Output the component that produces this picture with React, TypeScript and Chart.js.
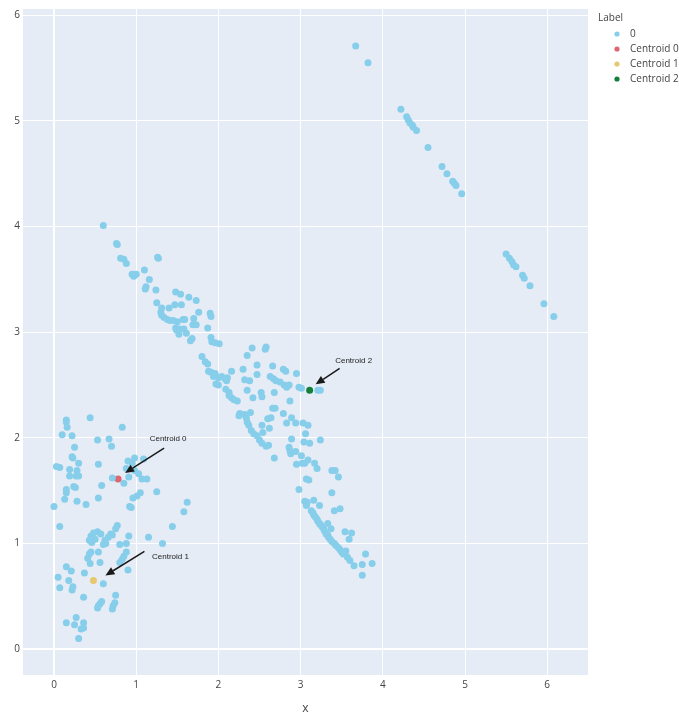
import React, { useEffect, useRef } from "react";
import { Chart, registerables } from "chart.js";

Chart.register(...registerables);

type Pt = [number, number];

// ---- Data: label "0" points, grouped by region ----
const upperLeftPoints: Pt[] = [
  [0.15, 2.17], [0.15, 2.15], [0.16, 2.1], [0.44, 2.19], [0.83, 2.1], [0.1, 2.03], [0.22, 2.02], [0.53, 1.98],
  [0.67, 1.99], [0.7, 1.92], [0.25, 1.91], [0.22, 1.82], [0.23, 1.81], [0.3, 1.76], [0.54, 1.75], [0.9, 1.78],
  [0.98, 1.81], [0.95, 1.76], [1.09, 1.8], [0.03, 1.73], [0.07, 1.72], [0.19, 1.7], [0.28, 1.69], [0.27, 1.64],
  [0.19, 1.64], [0.3, 1.64], [0.88, 1.71], [0.98, 1.69], [1.03, 1.66], [0.71, 1.62], [0.91, 1.63], [1.07, 1.61],
  [1.13, 1.61], [0.85, 1.57], [0.58, 1.55], [0.24, 1.54], [0.26, 1.53], [0.15, 1.51], [0.15, 1.48], [1.05, 1.48],
  [1.01, 1.45], [0.96, 1.43], [1.25, 1.49], [0.13, 1.42], [0.28, 1.4], [0.39, 1.37], [0.54, 1.43], [0.92, 1.35],
  [0.94, 1.34], [0.0, 1.35], [1.62, 1.39], [1.58, 1.3],
];

const lowerLeftPoints: Pt[] = [
  [0.07, 1.16], [0.77, 1.17], [0.75, 1.14], [0.69, 1.09], [0.71, 1.08], [0.66, 1.06], [0.62, 1.03], [0.6, 0.99],
  [0.63, 1.0], [0.48, 1.1], [0.53, 1.11], [0.57, 1.09], [0.45, 1.07], [0.43, 1.03], [0.46, 1.01], [0.5, 1.04],
  [0.91, 1.07], [0.8, 0.99], [0.88, 1.0], [1.15, 1.06], [1.32, 1.0], [1.44, 1.16], [0.45, 0.92], [0.43, 0.9],
  [0.54, 0.92], [0.41, 0.86], [0.56, 0.82], [0.44, 0.81], [0.88, 0.92], [0.85, 0.88], [0.8, 0.82], [0.83, 0.85],
  [0.15, 0.78], [0.21, 0.74], [0.37, 0.72], [0.9, 0.75], [0.05, 0.68], [0.18, 0.65], [0.6, 0.62], [0.23, 0.59],
  [0.22, 0.56], [0.07, 0.58], [0.36, 0.49], [0.75, 0.51], [0.58, 0.45], [0.56, 0.43], [0.54, 0.41], [0.53, 0.39],
  [0.74, 0.44], [0.72, 0.41], [0.71, 0.38], [0.27, 0.3], [0.15, 0.25], [0.25, 0.23], [0.36, 0.25], [0.33, 0.19],
  [0.36, 0.2], [0.3, 0.1],
];

const upperDiagonalPoints: Pt[] = [
  [0.6, 4.01], [0.76, 3.84], [0.77, 3.83], [0.81, 3.7], [0.85, 3.69], [0.88, 3.65], [1.26, 3.71], [1.27, 3.7],
  [0.95, 3.55], [1.0, 3.55], [0.97, 3.53], [1.1, 3.59], [1.16, 3.5], [1.12, 3.43], [1.11, 3.41], [1.24, 3.4],
  [1.48, 3.38], [1.54, 3.36], [1.64, 3.33], [1.73, 3.3], [1.25, 3.28], [1.31, 3.23], [1.4, 3.23], [1.47, 3.26],
  [1.55, 3.26], [1.3, 3.19], [1.31, 3.16], [1.34, 3.14], [1.38, 3.12], [1.41, 3.11], [1.45, 3.11], [1.5, 3.1],
  [1.57, 3.12], [1.59, 3.12], [1.7, 3.13], [1.76, 3.19], [1.9, 3.18], [1.91, 3.15], [1.69, 3.07], [1.73, 3.07],
  [1.48, 3.04], [1.49, 3.02], [1.53, 3.03], [1.58, 3.03], [1.61, 2.99], [1.52, 2.98], [1.87, 3.04], [1.66, 2.92],
  [1.68, 2.94],
];

const middlePoints: Pt[] = [
  [1.91, 2.95], [1.92, 2.91], [1.96, 2.9], [2.01, 2.89], [2.41, 2.85], [2.58, 2.86], [2.57, 2.84], [2.35, 2.78],
  [1.8, 2.77], [1.84, 2.72], [1.87, 2.7], [2.47, 2.69], [2.66, 2.68], [2.79, 2.65], [2.82, 2.63], [2.95, 2.61],
  [1.88, 2.63], [1.91, 2.62], [1.96, 2.61], [1.94, 2.58], [2.0, 2.57], [2.04, 2.58], [2.08, 2.56], [2.11, 2.57],
  [2.16, 2.63], [1.97, 2.51], [2.0, 2.5], [2.1, 2.54], [2.3, 2.65], [2.32, 2.55], [2.38, 2.54], [2.47, 2.6],
  [2.63, 2.58], [2.67, 2.56], [2.7, 2.54], [2.75, 2.53], [2.8, 2.5], [2.86, 2.5], [2.83, 2.48], [2.98, 2.48],
  [3.01, 2.47], [3.21, 2.45], [3.24, 2.45], [2.09, 2.46], [2.13, 2.43], [2.13, 2.4], [2.16, 2.38], [2.19, 2.36],
  [2.23, 2.35], [2.35, 2.45], [2.52, 2.43], [2.53, 2.39], [2.68, 2.43], [2.42, 2.38], [2.87, 2.35], [2.66, 2.28],
  [2.69, 2.28], [2.79, 2.23], [2.6, 2.18], [2.64, 2.19], [2.26, 2.23], [2.25, 2.21], [2.32, 2.22], [2.39, 2.24],
  [2.34, 2.19], [2.35, 2.15], [2.37, 2.12], [2.4, 2.07], [2.43, 2.04], [2.47, 2.02], [2.5, 1.98], [2.53, 1.95],
  [2.58, 1.92], [2.61, 1.93], [2.53, 2.12], [2.54, 2.05], [2.62, 2.09], [2.83, 2.14], [2.89, 2.19], [2.94, 2.14],
  [3.03, 2.14], [3.09, 2.12], [3.06, 2.04], [2.89, 1.99], [3.04, 1.96], [3.11, 1.95], [3.24, 1.98], [2.86, 1.91],
  [2.87, 1.88], [2.88, 1.85], [2.94, 1.87], [2.68, 1.81], [3.01, 1.83],
];

const lowerDiagonalPoints: Pt[] = [
  [2.95, 1.75], [3.02, 1.76], [3.05, 1.76], [3.09, 1.79], [3.17, 1.76], [3.2, 1.71], [3.38, 1.69], [3.42, 1.69],
  [3.46, 1.63], [3.07, 1.61], [3.1, 1.6], [2.98, 1.51], [3.38, 1.48], [3.05, 1.4], [3.08, 1.39], [3.07, 1.36],
  [3.16, 1.41], [3.23, 1.36], [3.41, 1.31], [3.48, 1.33], [3.13, 1.31], [3.15, 1.29], [3.16, 1.27], [3.18, 1.25],
  [3.2, 1.23], [3.21, 1.21], [3.23, 1.19], [3.24, 1.18], [3.26, 1.16], [3.33, 1.19], [3.28, 1.14], [3.29, 1.12],
  [3.37, 1.14], [3.31, 1.09], [3.33, 1.08], [3.34, 1.06], [3.36, 1.04], [3.38, 1.02], [3.41, 1.0], [3.43, 0.98],
  [3.46, 0.96], [3.48, 0.94], [3.5, 0.92], [3.55, 0.93], [3.52, 0.9], [3.54, 1.11], [3.62, 1.1], [3.59, 1.04],
  [3.57, 0.87], [3.6, 0.84], [3.79, 0.9], [3.65, 0.79], [3.75, 0.8], [3.87, 0.81], [3.75, 0.7],
];

const topRightPoints: Pt[] = [
  [3.67, 5.71], [3.82, 5.55], [4.22, 5.11], [4.29, 5.04], [4.31, 5.01], [4.33, 4.98], [4.36, 4.96], [4.37, 4.94],
  [4.41, 4.91], [4.55, 4.75], [4.72, 4.57], [4.78, 4.5], [4.85, 4.43], [4.87, 4.41], [4.89, 4.39], [4.96, 4.31],
  [5.5, 3.74], [5.54, 3.7], [5.57, 3.67], [5.59, 3.64], [5.62, 3.62], [5.7, 3.54], [5.72, 3.51], [5.79, 3.44],
  [5.96, 3.27], [6.08, 3.15],
];

// ---- Centroids ----
const centroid0: Pt[] = [[0.78, 1.61]];
const centroid1: Pt[] = [[0.48, 0.65]];
const centroid2: Pt[] = [[3.11, 2.45]];

const seriesLabels = ["0", "Centroid 0", "Centroid 1", "Centroid 2"];
const seriesColors = ["#87CEEB", "#DE6670", "#E6C86E", "#13803A"];

const xTicks = [0, 1, 2, 3, 4, 5, 6];
const yTicks = [0, 1, 2, 3, 4, 5, 6];
const xRange = [-0.377, 6.496];
const yRange = [-0.245, 6.06];

// annotation text + arrow offsets (pixels, relative to the centroid)
const annotationTexts = ["Centroid 0", "Centroid 1", "Centroid 2"];
const annotationTargets: Pt[] = [centroid0[0], centroid1[0], centroid2[0]];
const annotationTextOffsets: Pt[] = [[50, -40], [77, -24], [44, -30]];
const annotationTailOffsets: Pt[] = [[46, -31], [51, -29], [30, -22]];
const annotationTipOffsets: Pt[] = [[7, -6], [12, -5], [6, -6]];

const FONT = "'Open Sans', 'Noto Sans', sans-serif";
const TEXT_COLOR = "#444";

const toXY = (pts: Pt[]) => pts.map(([x, y]) => ({ x, y }));

const bgPlugin = {
  id: "plotBg",
  beforeDraw(chart: any) {
    const { ctx, chartArea } = chart;
    ctx.save();
    ctx.fillStyle = "#E5ECF6";
    ctx.fillRect(chartArea.left, chartArea.top, chartArea.right - chartArea.left, chartArea.bottom - chartArea.top);
    ctx.restore();
  },
};

const annotationPlugin = {
  id: "arrowAnnotations",
  afterDatasetsDraw(chart: any) {
    const { ctx, scales } = chart;
    const xs = scales.x;
    const ys = scales.y;
    ctx.save();
    annotationTexts.forEach((text, i) => {
      const [cx, cy] = annotationTargets[i];
      const px = xs.getPixelForValue(cx);
      const py = ys.getPixelForValue(cy);
      const tx = px + annotationTailOffsets[i][0];
      const ty = py + annotationTailOffsets[i][1];
      const hx = px + annotationTipOffsets[i][0];
      const hy = py + annotationTipOffsets[i][1];
      const ang = Math.atan2(hy - ty, hx - tx);
      const headLen = 9;
      const headW = 4;
      const bx = hx - headLen * Math.cos(ang);
      const by = hy - headLen * Math.sin(ang);
      ctx.strokeStyle = "#1a1a1a";
      ctx.fillStyle = "#1a1a1a";
      ctx.lineWidth = 1.5;
      ctx.beginPath();
      ctx.moveTo(tx, ty);
      ctx.lineTo(bx, by);
      ctx.stroke();
      ctx.beginPath();
      ctx.moveTo(hx, hy);
      ctx.lineTo(bx + headW * Math.sin(ang), by - headW * Math.cos(ang));
      ctx.lineTo(bx - headW * Math.sin(ang), by + headW * Math.cos(ang));
      ctx.closePath();
      ctx.fill();
      ctx.font = "8px 'Liberation Sans', Arial, sans-serif";
      ctx.fillStyle = "#222";
      ctx.textAlign = "center";
      ctx.textBaseline = "middle";
      ctx.fillText(text, px + annotationTextOffsets[i][0], py + annotationTextOffsets[i][1]);
    });
    ctx.restore();
  },
};

const legendPlugin = {
  id: "sideLegend",
  afterDraw(chart: any) {
    const { ctx } = chart;
    ctx.save();
    ctx.font = `10px ${FONT}`;
    ctx.fillStyle = TEXT_COLOR;
    ctx.textAlign = "left";
    ctx.textBaseline = "middle";
    ctx.fillText("Label", 598, 18);
    seriesLabels.forEach((label, i) => {
      const y = 34 + i * 15;
      ctx.beginPath();
      ctx.fillStyle = seriesColors[i];
      ctx.arc(617, y, 2.6, 0, Math.PI * 2);
      ctx.fill();
      ctx.fillStyle = TEXT_COLOR;
      ctx.fillText(label, 630, y);
    });
    ctx.restore();
  },
};

export default function App() {
  const canvasRef = useRef<HTMLCanvasElement | null>(null);

  useEffect(() => {
    if (!canvasRef.current) return;
    const allPoints = [
      ...upperLeftPoints,
      ...lowerLeftPoints,
      ...upperDiagonalPoints,
      ...middlePoints,
      ...lowerDiagonalPoints,
      ...topRightPoints,
    ];
    const groups = [allPoints, centroid0, centroid1, centroid2];
    const gridWidth = (ctx: any) => (ctx.tick && ctx.tick.value === 0 ? 2 : 1);

    const chart = new Chart(canvasRef.current, {
      type: "scatter",
      data: {
        datasets: groups.map((pts, i) => ({
          label: seriesLabels[i],
          data: toXY(pts),
          backgroundColor: seriesColors[i],
          borderWidth: 0,
          pointRadius: 3.5,
          pointHoverRadius: 3.5,
        })),
      },
      options: {
        animation: false,
        responsive: false,
        layout: { padding: { top: 8, right: 91, bottom: 0, left: 0 } },
        plugins: { legend: { display: false }, tooltip: { enabled: false } },
        scales: {
          x: {
            type: "linear",
            min: xRange[0],
            max: xRange[1],
            afterBuildTicks: (s: any) => {
              s.ticks = xTicks.map((v) => ({ value: v }));
            },
            afterFit: (s: any) => {
              s.height = 42;
            },
            grid: { color: "#ffffff", lineWidth: gridWidth, drawTicks: false },
            border: { display: false },
            ticks: { color: TEXT_COLOR, font: { family: FONT, size: 10 }, padding: 4, maxRotation: 0 },
            title: {
              display: true,
              text: "x",
              color: TEXT_COLOR,
              font: { family: FONT, size: 12, lineHeight: 1.2 },
              padding: { top: 0, bottom: 1 },
            },
          },
          y: {
            type: "linear",
            min: yRange[0],
            max: yRange[1],
            afterBuildTicks: (s: any) => {
              s.ticks = yTicks.map((v) => ({ value: v }));
            },
            afterFit: (s: any) => {
              s.width = 23;
            },
            grid: { color: "#ffffff", lineWidth: gridWidth, drawTicks: false },
            border: { display: false },
            ticks: { color: TEXT_COLOR, font: { family: FONT, size: 10 }, padding: 3 },
          },
        },
      },
      plugins: [bgPlugin, annotationPlugin, legendPlugin],
    });
    return () => chart.destroy();
  }, []);

  return (
    <div style={{ position: "absolute", left: 0, top: 0, width: 679, height: 717, background: "#fff" }}>
      <canvas ref={canvasRef} width={679} height={717} style={{ display: "block" }} />
    </div>
  );
}
